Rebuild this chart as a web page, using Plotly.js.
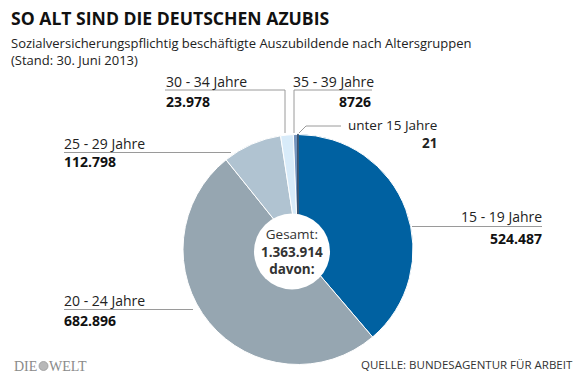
<!DOCTYPE html>
<html>
<head>
<meta charset="utf-8">
<script src="https://cdn.plot.ly/plotly-3.0.1.min.js"></script>
<style>html,body{margin:0;padding:0;background:#fff;}#chart{width:580px;height:386px;}</style>
</head>
<body>
<div id="chart"></div>
<script>
// ---- data ----
const labels = ['15 - 19 Jahre', '20 - 24 Jahre', '25 - 29 Jahre', '30 - 34 Jahre', '35 - 39 Jahre', 'unter 15 Jahre'];
const values = [524487, 682896, 112798, 23978, 8726, 21];
const valueLabels = ['524.487', '682.896', '112.798', '23.978', '8726', '21'];
const sliceColors = ['#0061a1', '#96a6b1', '#b0c3d1', '#d8ebf9', '#7394be', '#1f3d5c'];
const totalLabel = '1.363.914';
const title = 'SO ALT SIND DIE DEUTSCHEN AZUBIS';
const subtitle1 = 'Sozialversicherungspflichtig beschäftigte Auszubildende nach Altersgruppen';
const subtitle2 = '(Stand: 30. Juni 2013)';
const source = 'QUELLE: BUNDESAGENTUR FÜR ARBEIT';

// ---- layout helpers ----
const W = 580, H = 386;
const px = x => x / W;
const py = y => 1 - y / H;
const FONT = 'Open Sans, sans-serif';
const cx = 298, cy = 249.5, R = 115;

const trace = {
  type: 'pie',
  values: values,
  labels: labels,
  sort: false,
  direction: 'clockwise',
  rotation: 0,
  textinfo: 'none',
  hoverinfo: 'label+value',
  marker: {
    colors: sliceColors,
    line: {color: ['#fff', '#fff', '#fff', '#fff', '#fff', '#1f3d5c'], width: [1, 1, 1, 1, 1, 1.6]}
  },
  domain: {x: [px(cx - R), px(cx + R)], y: [py(cy + R), py(cy - R)]},
  showlegend: false
};

function ann(text, x, y, xanchor, size, bold, color) {
  return {
    text: bold ? '<b>' + text + '</b>' : text,
    x: px(x), y: py(y), xref: 'paper', yref: 'paper',
    xanchor: xanchor, yanchor: 'middle', showarrow: false,
    align: xanchor === 'right' ? 'right' : (xanchor === 'center' ? 'center' : 'left'),
    borderpad: 0, borderwidth: 0,
    font: {family: FONT, size: size, color: color || '#1a1a1a'}
  };
}

// label positions: [labelIndex, textX, textY, valueX, valueY, anchorText, anchorValue]
const labelPos = [
  [0, 542, 216.5, 542, 238, 'right', 'right'],
  [1, 64, 300, 64, 320.5, 'left', 'left'],
  [2, 64, 143, 64, 162, 'left', 'left'],
  [3, 166, 81.5, 166, 101.5, 'left', 'left'],
  [4, 293, 81.5, 371, 101.5, 'left', 'right']
];

const annotations = [];
labelPos.forEach(p => {
  annotations.push(ann(labels[p[0]], p[1], p[2], p[5], 14, false, '#222'));
  annotations.push(ann(valueLabels[p[0]], p[3], p[4], p[6], 14, true, '#111'));
});
// "unter 15 Jahre" as one two-line block
annotations.push(ann(labels[5] + '<br><b>' + valueLabels[5] + '</b>', 437, 134, 'right', 13.5, false, '#222'));
annotations.push(ann(title, 11, 18, 'left', 17.6, true, '#111'));
annotations.push(ann(subtitle1, 11, 43, 'left', 13, false, '#222'));
annotations.push(ann(subtitle2, 11, 60, 'left', 13, false, '#222'));
annotations.push(ann(source, 573, 364, 'right', 11.5, false, '#333'));
annotations.push(ann('DIE', 14, 366, 'left', 14, false, '#8a8a8a'));
annotations.push(ann('WELT', 49, 366, 'left', 14, false, '#8a8a8a'));
annotations[annotations.length-2].font.family = 'Liberation Serif, serif';
annotations[annotations.length-1].font.family = 'Liberation Serif, serif';
// center text as one block
annotations.push(ann('Gesamt:<br><b>' + totalLabel + '</b><br><b>davon:</b>', 292, 251.5, 'center', 13.5, false, '#333'));

const lc = '#9a9a9a';
function seg(pts) {
  let d = 'M ' + pts.map(q => px(q[0]) + ',' + py(q[1])).join(' L ');
  return {type: 'path', xref: 'paper', yref: 'paper', path: d, line: {color: lc, width: 1}, layer: 'above'};
}
const shapes = [
  seg([[299, 133], [306, 126], [341, 126]]),
  seg([[412, 226.5], [542, 226.5]]),
  seg([[64, 309.5], [193, 309.5]]),
  seg([[64, 152.5], [231, 152.5]]),
  seg([[165, 90], [285, 90], [285, 133]]),
  seg([[294, 133], [294, 90], [372, 90]]),
  // donut hole
  {type: 'circle', xref: 'paper', yref: 'paper', x0: px(254), x1: px(330), y0: py(289.5), y1: py(213.5),
   fillcolor: '#ffffff', line: {color: '#ffffff', width: 0}, layer: 'above'},
  // logo globe
  {type: 'circle', xref: 'paper', yref: 'paper', x0: px(39), x1: px(48), y0: py(370.5), y1: py(361.5),
   fillcolor: '#b8b8b8', line: {color: '#9a9a9a', width: 0.8}, layer: 'above'}
];

const layout = {
  width: W, height: H,
  margin: {l: 0, r: 0, t: 0, b: 0},
  paper_bgcolor: '#ffffff',
  plot_bgcolor: '#ffffff',
  showlegend: false,
  annotations: annotations,
  shapes: shapes,
  font: {family: FONT}
};

Plotly.newPlot('chart', [trace], layout, {displayModeBar: false, staticPlot: true});
</script>
</body>
</html>
